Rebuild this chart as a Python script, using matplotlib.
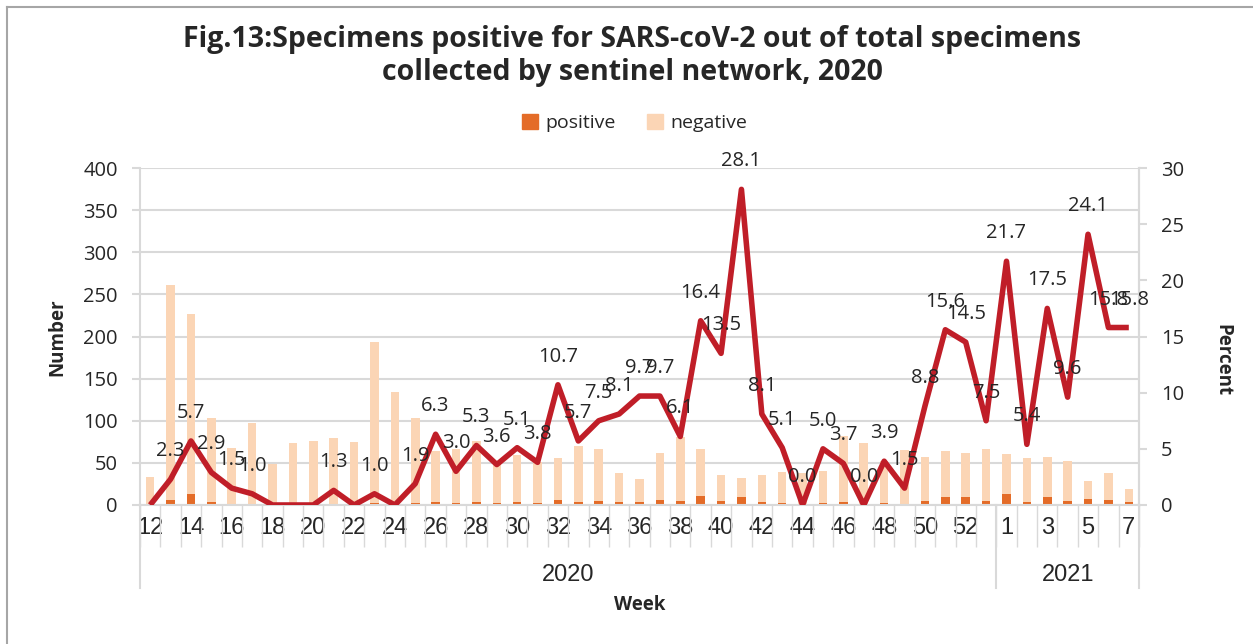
import matplotlib
matplotlib.use('Agg')
import matplotlib.pyplot as plt
from matplotlib.patches import Patch
from matplotlib.lines import Line2D
import numpy as np

# Data
weeks_2020 = list(range(12, 54))
weeks_2021 = list(range(1, 8))
week_labels = [str(w) for w in weeks_2020 + weeks_2021]
years = ['2020', '2021']

positive = [0, 6, 13, 3, 1, 1, 0, 0, 0, 1,
            0, 2, 0, 2, 4, 2, 4, 2, 3, 2,
            6, 4, 5, 3, 3, 6, 5, 11, 5, 9,
            3, 2, 0, 2, 3, 0, 2, 1, 5, 10,
            9, 5,
            13, 3, 10, 5, 7, 6, 3]
negative = [33, 255, 214, 100, 67, 96, 49, 73, 76, 79,
            75, 192, 134, 101, 60, 65, 72, 47, 56, 49,
            50, 66, 62, 35, 28, 56, 76, 55, 31, 23,
            33, 37, 38, 38, 79, 73, 50, 64, 52, 54,
            53, 62,
            47, 53, 47, 47, 22, 32, 16]
percent = [0.0, 2.3, 5.7, 2.9, 1.5, 1.0, 0.0, 0.0, 0.0, 1.3,
           0.0, 1.0, 0.0, 1.9, 6.3, 3.0, 5.3, 3.6, 5.1, 3.8,
           10.7, 5.7, 7.5, 8.1, 9.7, 9.7, 6.1, 16.4, 13.5, 28.1,
           8.1, 5.1, 0.0, 5.0, 3.7, 0.0, 3.9, 1.5, 8.8, 15.6,
           14.5, 7.5,
           21.7, 5.4, 17.5, 9.6, 24.1, 15.8, 15.8]
# weeks (2020) where the chart shows no data label
unlabeled_2020 = [12, 18, 19, 20, 22, 24]

POS_COLOR = '#E46C28'
NEG_COLOR = '#FBD5B5'
LINE_COLOR = '#C01E28'
GRID_COLOR = '#D9D9D9'
TEXT_COLOR = '#262626'
NARROW = ['Liberation Sans Narrow', 'Liberation Sans']

plt.rcParams['font.family'] = ['Open Sans', 'DejaVu Sans']
plt.rcParams['text.color'] = TEXT_COLOR

W, H = 1253, 644
fig = plt.figure(figsize=(W / 100, H / 100), dpi=100)
ax = fig.add_axes([140 / W, 1 - 505 / H, 999 / W, 337 / H])

x = np.arange(len(week_labels))
bar_w = 0.42
ax.bar(x, positive, width=bar_w, color=POS_COLOR, zorder=2)
ax.bar(x, negative, width=bar_w, bottom=positive, color=NEG_COLOR, zorder=2)

ax.set_xlim(-0.5, len(x) - 0.5)
ax.set_ylim(0, 400)
ax.set_yticks(np.arange(0, 401, 50))
ax.yaxis.grid(True, color=GRID_COLOR, linewidth=1.5, zorder=0)
ax.set_axisbelow(True)
ax.spines['top'].set_visible(False)
for s in ['left', 'right', 'bottom']:
    ax.spines[s].set_color(GRID_COLOR)
    ax.spines[s].set_linewidth(1.5)
ax.tick_params(axis='y', length=6, width=1.5, color=GRID_COLOR, pad=10,
               labelsize=14.5, labelcolor=TEXT_COLOR)

# x tick labels: every other week in each year group
n20 = len(weeks_2020)
tick_pos = list(range(0, n20, 2)) + list(range(n20, len(x), 2))
ax.set_xticks(tick_pos)
ax.set_xticklabels([week_labels[i] for i in tick_pos], family=NARROW, fontsize=17)
ax.tick_params(axis='x', length=0, pad=9, labelcolor=TEXT_COLOR)
ax.set_xticks(np.arange(-0.5, len(x), 1.0), minor=True)
ax.tick_params(axis='x', which='minor', length=30, width=1.0, color=GRID_COLOR)

# year group separators and labels
trans = ax.get_xaxis_transform()
for b in [-0.5, n20 - 0.5, len(x) - 0.5]:
    ax.add_line(Line2D([b, b], [0, -0.246], transform=trans, color=GRID_COLOR,
                       linewidth=1.5, clip_on=False))
ax.text((n20 - 1) / 2, -0.208, years[0], transform=trans, ha='center', va='center',
        family=NARROW, fontsize=17)
ax.text((n20 + len(x) - 1) / 2, -0.208, years[1], transform=trans, ha='center',
        va='center', family=NARROW, fontsize=17)

# percent line on the secondary axis
ax2 = ax.twinx()
ax2.plot(x, percent, color=LINE_COLOR, linewidth=4, solid_joinstyle='round',
         solid_capstyle='butt', zorder=3)
ax2.set_ylim(0, 30)
ax2.set_yticks(np.arange(0, 31, 5))
for s in ['top', 'left', 'bottom']:
    ax2.spines[s].set_visible(False)
ax2.spines['right'].set_color(GRID_COLOR)
ax2.spines['right'].set_linewidth(1.5)
ax2.tick_params(axis='y', length=6, width=1.5, color=GRID_COLOR, pad=10,
                labelsize=14.5, labelcolor=TEXT_COLOR)

for i, p in enumerate(percent):
    if i < n20 and weeks_2020[i] in unlabeled_2020:
        continue
    ax2.annotate(f'{p:.1f}', (x[i], p), xytext=(0, 28), textcoords='offset pixels',
                 ha='center', va='center', fontsize=14.5, color=TEXT_COLOR, zorder=4)

# axis titles
fig.text(57 / W, 1 - 337 / H, 'Number', rotation=90, ha='center', va='center',
         fontsize=13.5, fontweight='bold')
fig.text(1222 / W, 1 - 360 / H, 'Percent', rotation=270, ha='center', va='center',
         fontsize=13.5, fontweight='bold')
fig.text(640 / W, 1 - 605 / H, 'Week', ha='center', va='center',
         fontsize=13.5, fontweight='bold')

# title and legend
fig.text(632 / W, 1 - 56 / H,
         'Fig.13:Specimens positive for SARS-coV-2 out of total specimens\n'
         'collected by sentinel network, 2020',
         ha='center', va='center', fontsize=20.5, fontweight='bold', linespacing=1.15)
handles = [Patch(color=POS_COLOR), Patch(color=NEG_COLOR)]
fig.legend(handles, ['positive', 'negative'], loc='center', ncol=2,
           bbox_to_anchor=(635 / W, 1 - 123 / H), frameon=False, fontsize=14,
           handlelength=0.8, handleheight=0.8, handletextpad=0.4, columnspacing=1.6)

# outer frame (left and top edges visible in the reference)
fig.add_artist(Line2D([7 / W, 7 / W], [0, 1 - 7 / H], transform=fig.transFigure,
                      color='#A6A6A6', linewidth=1.5))
fig.add_artist(Line2D([7 / W, 1], [1 - 7 / H, 1 - 7 / H], transform=fig.transFigure,
                      color='#A6A6A6', linewidth=1.5))

fig.savefig('out.png', dpi=100)
